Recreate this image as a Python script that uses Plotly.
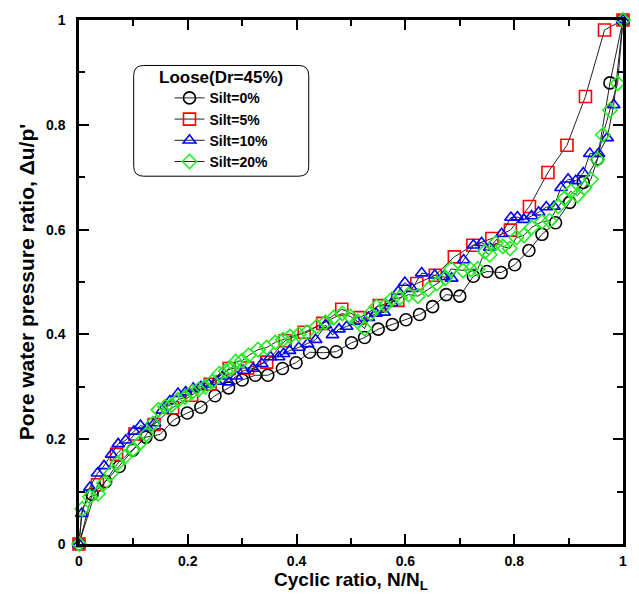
import plotly.graph_objects as go

# ---------------- data ----------------
silt0_x = [0, 0.024, 0.049, 0.074, 0.099, 0.123, 0.149, 0.174, 0.199, 0.224, 0.250,
           0.275, 0.300, 0.324, 0.347, 0.374, 0.399, 0.424, 0.449, 0.473, 0.501,
           0.525, 0.550, 0.576, 0.601, 0.626, 0.650, 0.675, 0.700, 0.725, 0.750,
           0.776, 0.801, 0.827, 0.851, 0.876, 0.902, 0.927, 0.953, 0.976, 1.0]
silt0_y = [0, 0.095, 0.119, 0.148, 0.179, 0.204, 0.209, 0.237, 0.250, 0.261, 0.283,
           0.298, 0.313, 0.322, 0.322, 0.335, 0.346, 0.366, 0.365, 0.367, 0.384,
           0.394, 0.410, 0.419, 0.428, 0.438, 0.453, 0.476, 0.473, 0.511, 0.520,
           0.518, 0.533, 0.560, 0.591, 0.613, 0.652, 0.690, 0.735, 0.880, 1.0]

silt5_x = [0, 0.034, 0.069, 0.103, 0.138, 0.172, 0.207, 0.241, 0.276, 0.310, 0.345,
           0.379, 0.414, 0.448, 0.483, 0.517, 0.552, 0.586, 0.621, 0.655, 0.690,
           0.724, 0.759, 0.793, 0.828, 0.862, 0.897, 0.931, 0.966, 1.0]
silt5_y = [0, 0.113, 0.171, 0.210, 0.228, 0.260, 0.284, 0.305, 0.335, 0.336, 0.347,
           0.388, 0.404, 0.421, 0.448, 0.432, 0.455, 0.465, 0.497, 0.513, 0.548,
           0.570, 0.583, 0.599, 0.644, 0.709, 0.761, 0.854, 0.981, 1.0]

silt10_x = [0, 0.005, 0.020, 0.034, 0.046, 0.060, 0.072, 0.086, 0.101, 0.113, 0.126,
            0.139, 0.153, 0.167, 0.182, 0.196, 0.210, 0.224, 0.238, 0.252, 0.264,
            0.275, 0.289, 0.303, 0.320, 0.336, 0.352, 0.367, 0.376, 0.387, 0.404,
            0.420, 0.435, 0.453, 0.466, 0.478, 0.492, 0.511, 0.532, 0.546, 0.561,
            0.575, 0.587, 0.599, 0.612, 0.630, 0.654, 0.670, 0.685, 0.707, 0.725,
            0.740, 0.755, 0.777, 0.794, 0.806, 0.818, 0.832, 0.845, 0.859, 0.873,
            0.886, 0.899, 0.913, 0.927, 0.939, 0.955, 0.971, 0.983, 1.0]
silt10_y = [0, 0.058, 0.108, 0.135, 0.149, 0.171, 0.191, 0.198, 0.215, 0.226, 0.222,
            0.231, 0.255, 0.273, 0.287, 0.290, 0.297, 0.300, 0.305, 0.310, 0.320,
            0.309, 0.320, 0.331, 0.335, 0.344, 0.357, 0.357, 0.363, 0.369, 0.375,
            0.382, 0.390, 0.418, 0.399, 0.410, 0.415, 0.424, 0.432, 0.440, 0.442,
            0.460, 0.482, 0.499, 0.487, 0.517, 0.513, 0.510, 0.507, 0.542, 0.570,
            0.575, 0.566, 0.592, 0.623, 0.624, 0.619, 0.626, 0.633, 0.643, 0.644,
            0.680, 0.696, 0.693, 0.708, 0.745, 0.745, 0.775, 0.838, 1.0]

silt20_x = [0, 0.006, 0.020, 0.035, 0.046, 0.059, 0.072, 0.084, 0.100, 0.112, 0.124,
            0.136, 0.146, 0.158, 0.170, 0.182, 0.195, 0.208, 0.220, 0.232, 0.245,
            0.258, 0.270, 0.280, 0.288, 0.300, 0.312, 0.329, 0.345, 0.361, 0.375,
            0.388, 0.404, 0.419, 0.437, 0.453, 0.468, 0.484, 0.499, 0.512, 0.525,
            0.536, 0.547, 0.563, 0.575, 0.590, 0.606, 0.623, 0.642, 0.658, 0.673,
            0.684, 0.706, 0.720, 0.733, 0.746, 0.755, 0.766, 0.779, 0.792, 0.804,
            0.818, 0.832, 0.851, 0.865, 0.881, 0.893, 0.904, 0.916, 0.929, 0.941,
            0.953, 0.963, 0.976, 0.990, 1.0]
silt20_y = [0, 0.067, 0.090, 0.096, 0.116, 0.135, 0.155, 0.166, 0.181, 0.193, 0.209,
            0.230, 0.256, 0.262, 0.265, 0.275, 0.280, 0.290, 0.295, 0.300, 0.310,
            0.325, 0.330, 0.335, 0.348, 0.350, 0.360, 0.371, 0.375, 0.385, 0.390,
            0.396, 0.400, 0.404, 0.415, 0.423, 0.432, 0.440, 0.434, 0.425, 0.411,
            0.440, 0.453, 0.455, 0.467, 0.470, 0.476, 0.473, 0.486, 0.497, 0.507,
            0.525, 0.522, 0.524, 0.525, 0.558, 0.552, 0.574, 0.568, 0.564, 0.585,
            0.589, 0.604, 0.615, 0.617, 0.644, 0.660, 0.673, 0.665, 0.680, 0.696,
            0.734, 0.781, 0.828, 0.879, 1.0]

series_names = ["Silt=0%", "Silt=5%", "Silt=10%", "Silt=20%"]
legend_title = "Loose(Dr=45%)"
x_title = "Cyclic ratio, N/N<sub>L</sub>"
y_title = "Pore water pressure ratio, \u0394u/p'"

# ---------------- styles ----------------
FONT = "Arial, Liberation Sans, sans-serif"
styles = [
    dict(symbol="circle-open", color="black", size=12),
    dict(symbol="square-open", color="red", size=12),
    dict(symbol="triangle-up-open", color="blue", size=11),
    dict(symbol="diamond-open", color="#22ee22", size=11),
]
data = [(silt0_x, silt0_y), (silt5_x, silt5_y), (silt10_x, silt10_y), (silt20_x, silt20_y)]

fig = go.Figure()
for (xs, ys), name, st in zip(data, series_names, styles):
    fig.add_trace(go.Scatter(
        x=xs, y=ys, name=name, mode="lines+markers",
        line=dict(color="#222222", width=1),
        marker=dict(symbol=st["symbol"], size=st["size"],
                    color=st["color"], line=dict(color=st["color"], width=1.6)),
        cliponaxis=False,
    ))

W, H = 639, 597
ML, MR, MT, MB = 79, 13, 14, 53
pw, ph = W - ML - MR, H - MT - MB

def px_x(p):
    return (p - ML) / pw

def px_y(p):
    return (H - MB - p) / ph

# rounded legend frame (pixel box -> paper)
x0, x1 = px_x(134), px_x(310)
yt, yb = px_y(60), px_y(172)
rx, ry = 10 / pw, 10 / ph
path = (f"M {x0+rx},{yt} L {x1-rx},{yt} Q {x1},{yt} {x1},{yt-ry} "
        f"L {x1},{yb+ry} Q {x1},{yb} {x1-rx},{yb} L {x0+rx},{yb} "
        f"Q {x0},{yb} {x0},{yb+ry} L {x0},{yt-ry} Q {x0},{yt} {x0+rx},{yt} Z")
fig.add_shape(type="path", path=path, xref="paper", yref="paper",
              line=dict(color="black", width=1))

fig.add_annotation(text=legend_title, xref="paper", yref="paper",
                   x=px_x(222), y=px_y(72), xanchor="center", yanchor="middle",
                   showarrow=False, font=dict(family=FONT, size=17, weight="bold"))

axis_common = dict(
    range=[0, 1], dtick=0.2, showgrid=False, zeroline=False,
    showline=True, linecolor="black", linewidth=2.5, mirror="ticks",
    ticks="inside", ticklen=10, tickwidth=2, tickcolor="black",
    minor=dict(dtick=0.1, ticks="inside", ticklen=6, tickwidth=2, tickcolor="black"),
    tickfont=dict(family=FONT, size=14, color="black", weight="bold"),
)

fig.update_layout(
    width=W, height=H,
    margin=dict(l=ML, r=MR, t=MT, b=MB),
    paper_bgcolor="white", plot_bgcolor="white",
    font=dict(family=FONT, color="black"),
    xaxis=dict(**axis_common, ticklabelstandoff=2,
               title=dict(text=x_title, standoff=2,
                          font=dict(family=FONT, size=19, weight="bold"))),
    yaxis=dict(**axis_common, ticklabelstandoff=8,
               title=dict(text=y_title, standoff=6,
                          font=dict(family=FONT, size=21, weight="bold"))),
    legend=dict(
        x=px_x(170), y=px_y(77), xanchor="left", yanchor="top",
        bgcolor="rgba(0,0,0,0)", borderwidth=0,
        font=dict(family=FONT, size=14, weight="bold"),
        tracegroupgap=0,
    ),
    showlegend=True,
)

fig.write_html("out.html")
